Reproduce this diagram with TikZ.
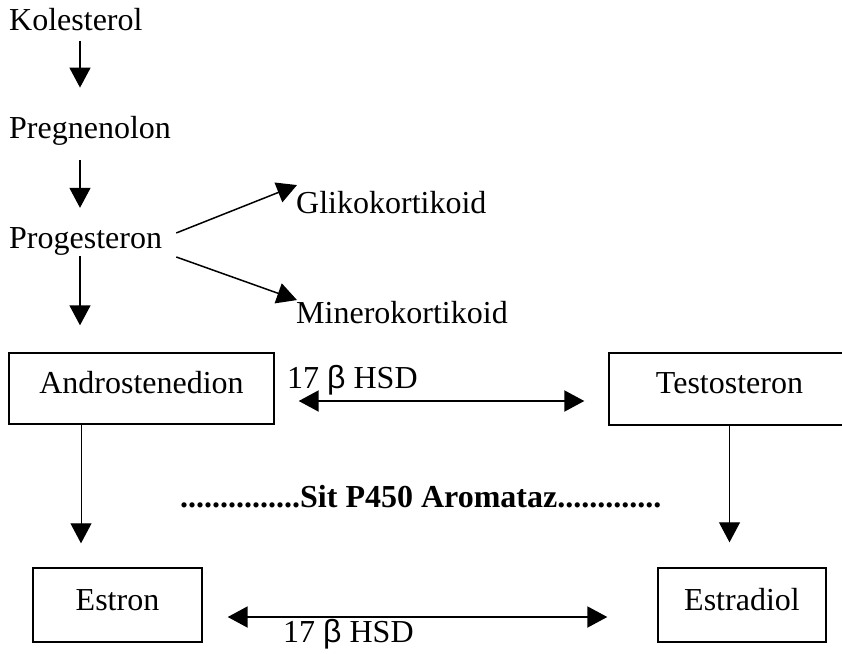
\documentclass[tikz,border=0pt]{standalone}
\usepackage{fontspec}
\setmainfont{Liberation Serif}
\newfontfamily\betafont{Liberation Sans}
\usetikzlibrary{arrows.meta}
\begin{document}
\begin{tikzpicture}[x=1pt,y=-1pt,
  txt/.style={inner sep=0pt,anchor=base west,font=\fontsize{32}{38}\selectfont},
  boxtxt/.style={inner sep=0pt,anchor=base,font=\fontsize{32}{38}\selectfont},
  box/.style={draw,line width=1.4pt,inner sep=0pt},
  arr/.style={line width=1.5pt,-{Triangle[length=20pt,width=21pt]}},
  varr/.style={line width=1pt,-{Triangle[length=20pt,width=21pt]}},
  dbl/.style={line width=2pt,{Triangle[length=20pt,width=21pt]}-{Triangle[length=20pt,width=21pt]}}]
\clip (0,0) rectangle (842,653);
\fill[white] (0,0) rectangle (842,653);
\coordinate (col) at (80,0);
% free texts
\node[txt] (kol) at (9,30) {Kolesterol};
\node[txt] (preg) at (9,138) {Pregnenolon};
\node[txt] (prog) at (9,248) {Progesteron};
\node[txt] (glik) at (296,213) {Glikokortikoid};
\node[txt] (mine) at (296,323) {Minerokortikoid};
% boxes
\node[box,minimum width=265pt,minimum height=71pt] (andro) at (141.5,388.5) {};
\node[boxtxt] (androt) at (141.5,393) {Androstenedion};
\node[box,minimum width=241pt,minimum height=72pt] (testo) at (729.5,389) {};
\node[boxtxt] (testot) at (729.5,393) {Testosteron};
\node[box,minimum width=169pt,minimum height=74pt] (estron) at (117.5,605) {};
\node[boxtxt] (estront) at (117.5,610) {Estron};
\node[box,minimum width=168pt,minimum height=74pt] (estra) at (742,605) {};
\node[boxtxt] (estrat) at (742,610) {Estradiol};
% labels
\node[txt] (hsd1) at (287,388) {17 {\betafont β} HSD};
\node[txt] (hsd2) at (283,642) {17 {\betafont β} HSD};
\node[txt,font=\fontsize{32}{38}\selectfont\bfseries] (aro) at (180,507) {...............Sit P450 Aromataz.............};
% connectors
\draw[arr] ([yshift=-10pt]col |- kol.south) -- ([yshift=28pt]col |- preg.north);
\draw[arr] ([yshift=-15pt]col |- preg.south) -- ([yshift=19pt]col |- prog.north);
\draw[arr] ([yshift=-1pt]col |- prog.south) -- ([yshift=27pt]col |- andro.north);
\draw[arr] ([xshift=14pt,yshift=8pt]prog.east) -- ([xshift=1pt,yshift=17pt]glik.west);
\draw[arr] ([xshift=14pt,yshift=-16pt]prog.east) -- ([xshift=1pt,yshift=12pt]mine.west);
\draw[dbl] ([xshift=24pt,yshift=-12.5pt]andro.east) -- ([xshift=-24pt,yshift=-12pt]testo.west);
\draw[varr] ([xshift=-60.5pt]andro.south) -- ([xshift=-60.5pt,yshift=24pt]estron.north -| andro.south);
\draw[varr] (testo.south) -- ([yshift=25pt]estra.north -| testo.south);
\draw[dbl] ([xshift=25pt,yshift=-12pt]estron.east) -- ([xshift=-50pt,yshift=-12pt]estra.west);
\end{tikzpicture}
\end{document}
